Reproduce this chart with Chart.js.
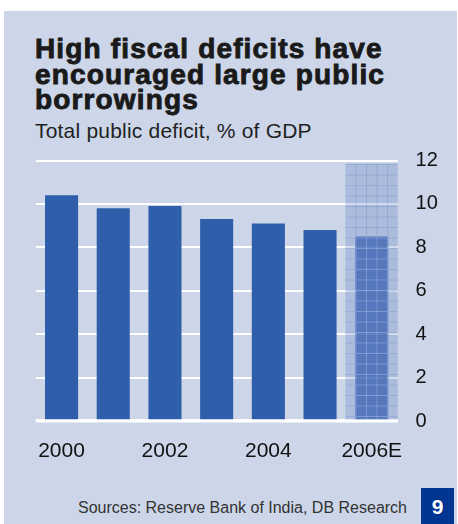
<!DOCTYPE html>
<html>
<head>
<meta charset="utf-8">
<script src="https://cdn.jsdelivr.net/npm/chart.js@4/dist/chart.umd.min.js"></script>
<style>
  html, body { margin: 0; padding: 0; background: #ffffff; }
  body { width: 458px; height: 524px; position: relative; overflow: hidden; font-family: "Liberation Sans", Arial, sans-serif; }
  .panel { position: absolute; left: 4px; top: 11px; width: 453px; height: 513px; background: #ccd6e8; }
  .title { position: absolute; left: 35px; top: 36px; font-size: 28px; line-height: 25.5px; font-weight: 700; color: #1a1a1a; -webkit-text-stroke: 0.9px #1a1a1a; letter-spacing: 1.15px; }
  .subtitle { position: absolute; left: 35px; top: 119px; font-size: 21px; color: #222; letter-spacing: 0.2px; }
  .source { position: absolute; right: 51px; top: 499px; font-size: 16px; color: #333; }
  .badge { position: absolute; left: 421px; top: 488px; width: 33px; height: 36px; background: #003592; color: #fff; font-weight: 700; font-size: 21px; text-align: center; line-height: 38px; }
  #wrap { position: absolute; left: 0; top: 140px; width: 458px; height: 340px; }
</style>
</head>
<body>
<div class="panel"></div>
<div class="title">High fiscal deficits have<br>encouraged large public<br>borrowings</div>
<div class="subtitle">Total public deficit, % of GDP</div>
<div id="wrap"><canvas id="deficitChart" width="458" height="340"></canvas></div>
<div class="source">Sources: Reserve Bank of India, DB Research</div>
<div class="badge">9</div>

<script>
// data
const years = ["2000", "2001", "2002", "2003", "2004", "2005", "2006E"];
const deficit = [10.4, 9.8, 9.9, 9.3, 9.1, 8.8, 8.5];
// shaded forecast column behind the estimate
const forecastBand = [null, null, null, null, null, null, 11.85];
const yTicks = [0, 2, 4, 6, 8, 10, 12];

const barBlue = "#2f5eab";

// grid-textured fills for the estimate year
function makeGridTile(fill, line) {
    const c = document.createElement("canvas");
    c.width = 21; c.height = 21;
    const g = c.getContext("2d");
    g.fillStyle = fill;
    g.fillRect(0, 0, 21, 21);
    // fine dither
    g.fillStyle = "rgba(255,255,255,0.06)";
    for (let y = 0; y < 21; y += 2) {
        for (let x = (y / 2) % 2; x < 21; x += 2) g.fillRect(x, y, 1, 1);
    }
    g.strokeStyle = line;
    g.lineWidth = 1;
    g.beginPath();
    [0.5, 11].forEach(p => {
        g.moveTo(p, 0); g.lineTo(p, 21);
        g.moveTo(0, p); g.lineTo(21, p);
    });
    g.stroke();
    return c;
}

const ctx = document.getElementById("deficitChart").getContext("2d");
const bandPattern = ctx.createPattern(makeGridTile("rgba(52,92,178,0.22)", "rgba(60,95,185,0.18)"), "repeat");
const barPattern = ctx.createPattern(makeGridTile("rgba(48,90,175,0.72)", "rgba(200,215,245,0.35)"), "repeat");
bandPattern.setTransform(new DOMMatrix().translate(345, 3));
barPattern.setTransform(new DOMMatrix().translate(345, 3));

const barColors = deficit.map((v, i) => i === deficit.length - 1 ? barPattern : barBlue);

new Chart(ctx, {
    type: "bar",
    data: {
        labels: years,
        datasets: [{
            label: "Total public deficit",
            data: deficit,
            backgroundColor: barColors,
            borderWidth: 0,
            barPercentage: 0.64,
            categoryPercentage: 1,
            grouped: false,
            order: 1
        }, {
            label: "Estimate",
            data: forecastBand,
            backgroundColor: bandPattern,
            borderWidth: 0,
            barPercentage: 1,
            categoryPercentage: 1,
            grouped: false,
            order: 2
        }]
    },
    options: {
        responsive: false,
        animation: false,
        events: [],
        layout: { padding: { left: 35.7, top: 20.5, right: 0, bottom: 0 } },
        plugins: { legend: { display: false }, tooltip: { enabled: false } },
        scales: {
            x: {
                grid: { display: false },
                border: { display: false },
                ticks: {
                    autoSkip: false,
                    maxRotation: 0,
                    padding: 10,
                    color: "#111",
                    font: { family: "Liberation Sans", size: 21 },
                    callback: function (val, i) { return i % 2 === 0 ? years[i] : ""; }
                },
                afterFit: scale => {
                    scale.height = 59;
                    scale.paddingLeft = 0;
                    scale.paddingRight = 0;
                }
            },
            y: {
                position: "right",
                min: 0,
                max: 12,
                afterBuildTicks: scale => { scale.ticks = yTicks.map(v => ({ value: v })); },
                grid: {
                    color: "#ffffff",
                    lineWidth: c => c.tick && c.tick.value === 0 ? 3.5 : 2,
                    drawTicks: false
                },
                border: { display: false },
                ticks: {
                    padding: 18,
                    color: "#111",
                    font: { family: "Liberation Sans", size: 20 }
                },
                afterFit: scale => {
                    scale.width = 60.4;
                    scale.paddingTop = 0;
                    scale.paddingBottom = 0;
                }
            }
        }
    }
});
</script>
</body>
</html>
